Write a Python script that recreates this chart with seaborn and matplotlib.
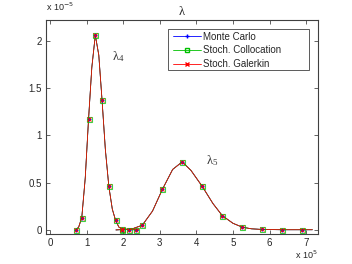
import numpy as np
import pandas as pd
import seaborn as sb
from matplotlib import pyplot as plt
from matplotlib.lines import Line2D
from matplotlib.patches import Rectangle

# curve points (x in 1e5, y in 1e-5)
lam4_x = [0.70, 0.78, 0.865, 0.96, 1.05, 1.14, 1.235, 1.33, 1.42, 1.51, 1.605, 1.70, 1.79, 1.88, 1.975, 2.16, 2.345, 2.42]
lam4_y = [0.0, 0.03, 0.13, 0.55, 1.17, 1.72, 2.06, 1.85, 1.37, 0.85, 0.46, 0.22, 0.10, 0.03, 0.01, 0.003, 0.002, 0.0]
lam5_x = [1.80, 1.97, 2.25, 2.52, 2.80, 3.07, 3.35, 3.61, 3.85, 4.16, 4.45, 4.71, 5.00, 5.25, 5.50, 5.80, 6.35, 6.90, 7.17]
lam5_y = [0.0, 0.004, 0.012, 0.05, 0.20, 0.43, 0.64, 0.72, 0.63, 0.46, 0.28, 0.15, 0.07, 0.03, 0.012, 0.005, 0.002, 0.002, 0.002]

# marker positions (indices into the curves above)
lam4_marks = [0, 2, 4, 6, 8, 10, 12, 14, 15, 16]
lam5_marks = [1, 3, 5, 7, 9, 11, 13, 15, 16, 17]

methods = ["Monte Carlo", "Stoch. Collocation", "Stoch. Galerkin"]
colors = {"Monte Carlo": "#0000ff", "Stoch. Collocation": "#00c000", "Stoch. Galerkin": "#ff0000"}
markers = {"Monte Carlo": "+", "Stoch. Collocation": "s", "Stoch. Galerkin": "x"}

xticks = [0, 1, 2, 3, 4, 5, 6, 7]
yticks = [0, 0.5, 1, 1.5, 2]

rows = []
for m in methods:
    for x, y in zip(lam4_x, lam4_y):
        rows.append({"x": x, "y": y, "peak": "l4", "method": m})
    for x, y in zip(lam5_x, lam5_y):
        rows.append({"x": x, "y": y, "peak": "l5", "method": m})
curveDF = pd.DataFrame(rows)

mrows = []
for m in methods:
    for i in lam4_marks:
        mrows.append({"x": lam4_x[i], "y": lam4_y[i], "method": m})
    for i in lam5_marks:
        mrows.append({"x": lam5_x[i], "y": lam5_y[i], "method": m})
markDF = pd.DataFrame(mrows)

sb.set_style("ticks")
plt.rcParams['font.family'] = ['Liberation Sans', 'DejaVu Sans']

fig = plt.figure(figsize=(3.52, 2.64), dpi=100)
ax = fig.add_axes([0.131, 0.114, 0.772, 0.81])

for m in methods:
    sb.lineplot(data=curveDF[curveDF.method == m], x="x", y="y", units="peak",
                estimator=None, sort=False, color=colors[m], lw=0.55, ax=ax, legend=False)
for m in methods:
    sub = markDF[markDF.method == m]
    if markers[m] == "s":
        ax.plot(sub.x, sub.y, ls="none", marker="s", ms=3.6, mfc="none", mec=colors[m], mew=0.8, alpha=0.75)
    else:
        ax.plot(sub.x, sub.y, ls="none", marker=markers[m], ms=3, color=colors[m], mew=0.7)

ax.set_xlim(-0.11, 7.32)
ax.set_ylim(-0.042, 2.22)
ax.set_xticks(xticks)
ax.set_xticklabels([str(t) for t in xticks])
ax.set_yticks(yticks)
ax.set_yticklabels(["0", "0.5", "1", "1.5", "2"])
ax.set_xlabel("")
ax.set_ylabel("")
ax.tick_params(direction="in", length=3, width=0.5, labelsize=7, top=True, right=True, pad=3)
for s in ax.spines.values():
    s.set_linewidth(0.8)
    s.set_color("#404040")

ax.set_title(r"$\mathregular{\lambda}$", fontsize=9, pad=4, family="Liberation Serif")
ax.text(1.68, 1.80, r"$\mathregular{\lambda_4}$", fontsize=9, family="Liberation Serif", color="#333333")
ax.text(4.25, 0.70, r"$\mathregular{\lambda_5}$", fontsize=9, family="Liberation Serif", color="#333333")

fig.text(0.131, 0.95, r"x 10$^{-5}$", fontsize=6.5, ha="left", va="bottom")
fig.text(0.903, 0.01, r"x 10$^{5}$", fontsize=6.5, ha="right", va="bottom")

# legend box (MATLAB style, extra room on the right)
ax.add_patch(Rectangle((0.449, 0.766), 0.518, 0.192, transform=ax.transAxes, facecolor="white",
                       edgecolor="#404040", lw=0.6, zorder=4))
handles = [Line2D([0], [0], color=colors["Monte Carlo"], lw=0.6, marker="+", ms=3.5),
           Line2D([0], [0], color=colors["Stoch. Collocation"], lw=0.6, marker="s", ms=3, mfc="none"),
           Line2D([0], [0], color=colors["Stoch. Galerkin"], lw=0.6, marker="x", ms=3)]
leg = ax.legend(handles, methods, loc="upper left", bbox_to_anchor=(0.455, 0.96), borderaxespad=0,
                fontsize=7, frameon=False, handlelength=2.9,
                borderpad=0.3, labelspacing=0.38, handletextpad=0.25)
leg.set_zorder(5)

plt.savefig("out.png", dpi=100)
